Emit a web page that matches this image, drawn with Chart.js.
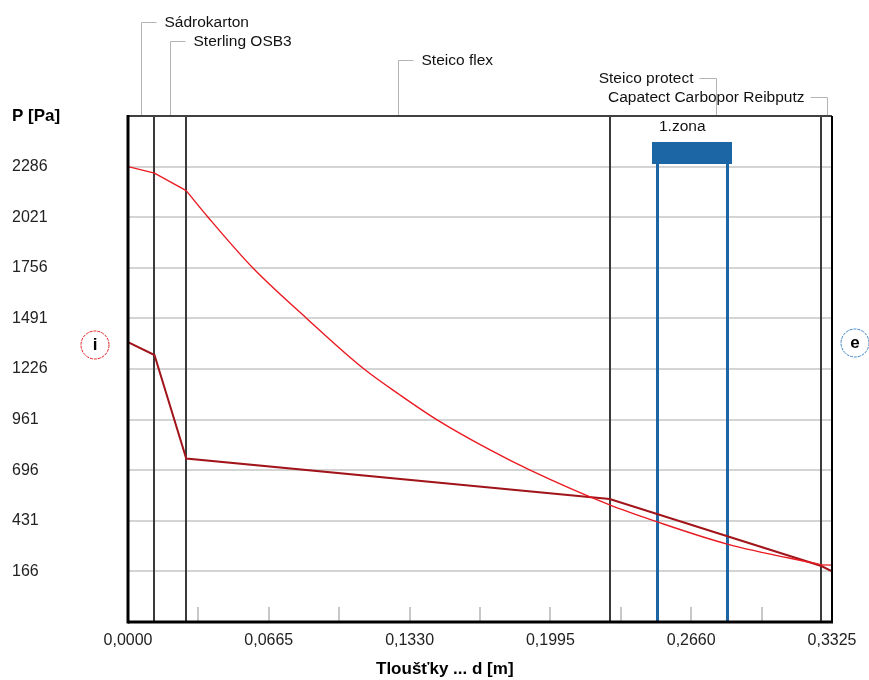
<!DOCTYPE html>
<html>
<head>
<meta charset="utf-8">
<title>Průběh tlaků vodní páry</title>
<script src="https://cdn.jsdelivr.net/npm/chart.js@4.4.1/dist/chart.umd.min.js"></script>
<style>
  html, body { margin: 0; padding: 0; background: #fff; }
  #wrap { width: 869px; height: 680px; }
</style>
</head>
<body>
<div id="wrap"><canvas id="chart" width="869" height="680"></canvas></div>
<script>
// vrstvy konstrukce (hranice v m)
const layerNames = ['Sádrokarton', 'Sterling OSB3', 'Steico flex', 'Steico protect', 'Capatect Carbopor Reibputz'];
const layerBounds = [0, 0.0125, 0.0275, 0.2275, 0.3275, 0.3325];

// zóna kondenzace
const zoneBounds = [0.25, 0.283];
const zoneLabel = '1.zona';

// nasycený tlak vodní páry (světle červená)
const satX = [0, 0.0125, 0.0275, 0.0378, 0.0589, 0.0844, 0.1115, 0.1285, 0.1458, 0.171, 0.1899, 0.2275, 0.25, 0.283, 0.3275, 0.3325];
const satP = [2286, 2252, 2160, 2021, 1756, 1491, 1226, 1090, 961, 802, 696, 514, 425, 309, 200, 199];

// částečný tlak vodní páry (tmavě červená)
const partX = [0, 0.0125, 0.0275, 0.2275, 0.3275, 0.3325];
const partP = [1367, 1299, 757, 545, 194, 166];

// osy
const yMin = -99, yMax = 2551;
const yTicks = [166, 431, 696, 961, 1226, 1491, 1756, 2021, 2286];
const xMin = 0, xMax = 0.3325;
const xTickValues = [0, 0.0665, 0.133, 0.1995, 0.266, 0.3325];
const xTickLabels = ['0,0000', '0,0665', '0,1330', '0,1995', '0,2660', '0,3325'];
const xMarkValues = [0, 0.03325, 0.0665, 0.09975, 0.133, 0.16625, 0.1995, 0.23275, 0.266, 0.29925, 0.3325];

const FONT = '"Liberation Sans", Arial, sans-serif';
const BLUE = '#1d66a6';
const SAT_RED = '#ea1a22';

function vline(ctx, x, y1, y2) {
  ctx.beginPath(); ctx.moveTo(x, y1); ctx.lineTo(x, y2); ctx.stroke();
}
function hline(ctx, y, x1, x2) {
  ctx.beginPath(); ctx.moveTo(x1, y); ctx.lineTo(x2, y); ctx.stroke();
}
function pts(xs, ys, from, to) {
  return xs.slice(from, to).map((v, i) => ({ x: v, y: ys[from + i] }));
}

const overlay = {
  id: 'overlay',
  beforeDatasetsDraw(chart) {
    const { ctx, chartArea: a, scales: { x } } = chart;
    ctx.save();
    // drobné značky na ose x
    ctx.strokeStyle = '#c8c8c8'; ctx.lineWidth = 2;
    x.ticks.forEach(t => vline(ctx, Math.round(x.getPixelForValue(t.value)), a.bottom - 15, a.bottom));
    // hranice vrstev
    ctx.strokeStyle = '#3a3a3a'; ctx.lineWidth = 2;
    layerBounds.slice(1, -1).forEach(b => vline(ctx, Math.round(x.getPixelForValue(b)), a.top, a.bottom));
    // zóna
    const z1 = Math.round(x.getPixelForValue(zoneBounds[0]));
    const z2 = Math.round(x.getPixelForValue(zoneBounds[1]));
    ctx.fillStyle = BLUE;
    ctx.fillRect(z1 - 5, a.top + 26, z2 - z1 + 10, 22);
    ctx.strokeStyle = BLUE; ctx.lineWidth = 3;
    vline(ctx, z1 + 0.5, a.top + 48, a.bottom);
    vline(ctx, z2 + 0.5, a.top + 48, a.bottom);
    ctx.fillStyle = '#111';
    ctx.font = '15.5px ' + FONT;
    ctx.textAlign = 'left'; ctx.textBaseline = 'middle';
    ctx.fillText(zoneLabel, z1 + 2, a.top + 11);
    ctx.restore();
  },
  afterDraw(chart) {
    const { ctx, chartArea: a, scales: { x } } = chart;
    ctx.save();
    // rámeček
    ctx.strokeStyle = '#404040'; ctx.lineWidth = 2;
    hline(ctx, a.top, a.left, a.right);
    ctx.strokeStyle = '#000';
    vline(ctx, a.right, a.top, a.bottom);
    ctx.lineWidth = 3;
    vline(ctx, a.left, a.top - 1, a.bottom + 1.5);
    hline(ctx, a.bottom, a.left, a.right + 1);

    // popisky vrstev
    ctx.font = '15.5px ' + FONT;
    ctx.textBaseline = 'middle';
    ctx.lineWidth = 1;
    layerNames.forEach((name, i) => {
      const px = Math.round(x.getPixelForValue((layerBounds[i] + layerBounds[i + 1]) / 2)) + 0.5;
      const ly = Math.round(22 + i * 18.75) + 0.5;
      ctx.strokeStyle = '#b4b4b4';
      ctx.beginPath();
      ctx.moveTo(px, a.top - 1);
      ctx.lineTo(px, ly);
      ctx.lineTo(i < 3 ? px + 15 : px - 17, ly);
      ctx.stroke();
      ctx.fillStyle = '#111';
      ctx.textAlign = i < 3 ? 'left' : 'right';
      ctx.fillText(name, i < 3 ? px + 23 : px - 23, ly);
    });

    // kroužky i / e
    ctx.lineWidth = 1;
    ctx.setLineDash([3, 1]);
    ctx.strokeStyle = '#e02020';
    ctx.beginPath(); ctx.arc(a.left - 33, a.top + 229, 14, 0, Math.PI * 2); ctx.stroke();
    ctx.strokeStyle = '#3a85c8';
    ctx.beginPath(); ctx.arc(a.right + 23, a.top + 227, 14, 0, Math.PI * 2); ctx.stroke();
    ctx.setLineDash([]);
    ctx.fillStyle = '#000';
    ctx.font = 'bold 17px ' + FONT;
    ctx.textAlign = 'center';
    ctx.fillText('i', a.left - 33, a.top + 229);
    ctx.fillText('e', a.right + 23, a.top + 227);

    // názvy os
    ctx.textAlign = 'left';
    ctx.fillText('P [Pa]', 12, a.top);
    ctx.fillText('Tloušťky ... d [m]', 376, a.bottom + 47);
    ctx.restore();
  }
};

Chart.defaults.font.family = FONT;
Chart.defaults.font.size = 16;
Chart.defaults.color = '#222';

const lineStyle = { pointRadius: 0, fill: false };

new Chart(document.getElementById('chart'), {
  type: 'line',
  data: {
    datasets: [
      // nasycený tlak: rovné úseky v tenkých vrstvách, hladká křivka v izolaci
      { label: 'p_sat', data: pts(satX, satP, 0, 3), borderColor: SAT_RED, borderWidth: 1.4, tension: 0, ...lineStyle },
      { label: 'p_sat', data: pts(satX, satP, 2, 15), borderColor: SAT_RED, borderWidth: 1.4, cubicInterpolationMode: 'monotone', ...lineStyle },
      { label: 'p_sat', data: pts(satX, satP, 14, 16), borderColor: SAT_RED, borderWidth: 1.4, tension: 0, ...lineStyle },
      { label: 'p', data: pts(partX, partP, 0, partX.length), borderColor: '#a0141a', borderWidth: 2, tension: 0, ...lineStyle }
    ]
  },
  options: {
    responsive: false,
    animation: false,
    devicePixelRatio: 1,
    layout: { padding: { left: 12, top: 116, right: 37, bottom: 0 } },
    plugins: { legend: { display: false }, tooltip: { enabled: false } },
    scales: {
      x: {
        type: 'linear',
        min: xMin, max: xMax,
        afterBuildTicks: s => { s.ticks = xMarkValues.map(v => ({ value: v })); },
        afterFit: s => { s.height = 58; },
        ticks: {
          autoSkip: false, maxRotation: 0, padding: 9,
          callback: v => { const i = xTickValues.indexOf(v); return i < 0 ? '' : xTickLabels[i]; }
        },
        grid: { display: false, drawTicks: false },
        border: { display: false }
      },
      y: {
        min: yMin, max: yMax,
        afterBuildTicks: s => { s.ticks = yTicks.map(v => ({ value: v })); },
        afterFit: s => { s.width = 116; },
        ticks: { crossAlign: 'far', padding: 0, callback: v => String(v) },
        grid: { color: '#d4d4d4', lineWidth: 2, drawTicks: false },
        border: { display: false }
      }
    }
  },
  plugins: [overlay]
});
</script>
</body>
</html>
